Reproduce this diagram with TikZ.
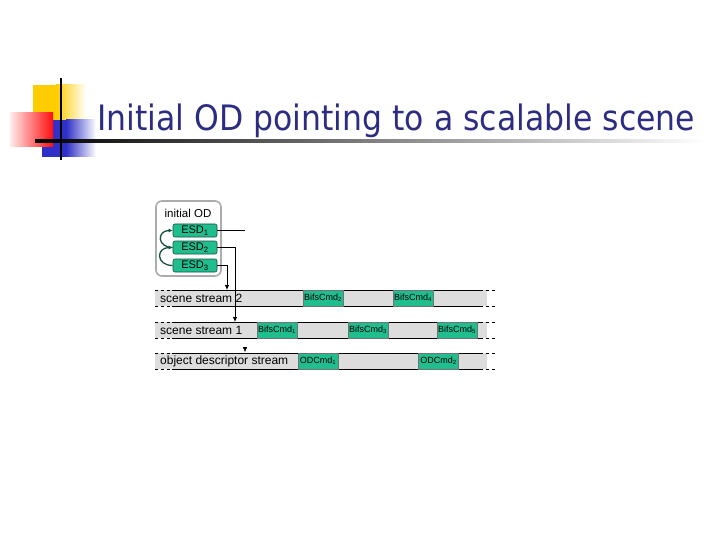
\documentclass[tikz,border=0pt]{standalone}
\usepackage{fontspec}
\setmainfont{Liberation Sans}
\newfontfamily\titlefont{DejaVu Sans}
\usetikzlibrary{arrows.meta}
\definecolor{esdgreen}{RGB}{32,190,142}
\definecolor{esdedge}{RGB}{20,80,62}
\definecolor{bargray}{RGB}{221,221,221}
\definecolor{titleblue}{RGB}{44,44,130}
\definecolor{gold}{RGB}{255,204,0}
\definecolor{squareblue}{RGB}{48,48,200}
\begin{document}
\begin{tikzpicture}[x=1pt, y=-1pt,
    odbox/.style={draw=gray!65, line width=1.6pt, rounded corners=6pt, fill=white,
                  minimum width=65pt, minimum height=75pt, inner sep=0pt},
    esd/.style={draw=esdedge, fill=esdgreen, rounded corners=2pt, line width=0.6pt,
                minimum width=44pt, minimum height=13pt, inner sep=0pt, font=\fontsize{11}{11}\selectfont},
    streambar/.style={fill=bargray, minimum width=332pt, minimum height=16pt, inner sep=0pt},
    cmd/.style={fill=esdgreen, draw=black!55, line width=0.4pt, minimum width=40pt,
                minimum height=16pt, inner sep=0pt, font=\fontsize{9}{9}\selectfont},
    rowlabel/.style={anchor=west, inner sep=0pt, font=\fontsize{12}{12}\selectfont},
    arr/.style={-{Latex[length=5pt,width=4.5pt]}, line width=0.8pt},
    back/.style={-{Latex[length=4pt,width=4pt]}, draw=esdedge, line width=1.3pt}]
\useasboundingbox (0,0) rectangle (720,540);
\fill[white] (0,0) rectangle (720,540);
\fill[gold] (33,85) rectangle (56,120);
\shade[left color=gold, right color=white] (56,85) rectangle (86,120);
\fill[squareblue] (42,120) rectangle (66,157);
\shade[left color=squareblue, right color=white] (66,120) rectangle (96,157);
\shade[left color=red!8, right color=red!95] (10,113) rectangle (53,147);
\shade[left color=black, right color=white] (35,140) rectangle (705,142.2);
\fill[black] (60,78) rectangle (62.2,160);
\node[anchor=base west, inner sep=0pt, text=titleblue, xscale=0.9,
      font=\titlefont\fontsize{35}{35}\selectfont] (title) at (97,131) {Initial OD pointing to a scalable scene};
\node[odbox] (od) at (188.5,238.5) {};
\node[font=\fontsize{11.5}{11.5}\selectfont] (odname) at (188,213) {initial OD};
\node[esd] (esd1) at (195,230.5) {ESD\textsubscript{1}};
\node[esd] (esd2) at (195,247.5) {ESD\textsubscript{2}};
\node[esd] (esd3) at (195,265.5) {ESD\textsubscript{3}};
\draw[back] (esd2.west) to[out=180, in=180, looseness=2.4] (esd1.west);
\draw[back] (esd3.west) to[out=180, in=180, looseness=2.4] (esd2.west);
\node[streambar] (scenetwo) at (321,298) {};
\node[streambar] (sceneone) at (321,330) {};
\node[streambar] (odstream) at (321,361) {};
\foreach \y in {290,306,322,338,353,369} {
  \draw[dashed, line width=0.6pt] (155,\y) -- (172,\y);
  \draw[line width=0.6pt] (172,\y) -- (480,\y);
  \draw[dashed, line width=0.6pt] (480,\y) -- (495,\y);
}
\node[rowlabel] (labtwo) at (160,298) {scene stream 2};
\node[rowlabel] (labone) at (160,330) {scene stream 1};
\node[rowlabel] (labod) at (160,361) {object descriptor stream};
\node[cmd] (bifs2) at (323,298) {BifsCmd\textsubscript{2}};
\node[cmd] (bifs4) at (413,298) {BifsCmd\textsubscript{4}};
\node[cmd] (bifs1) at (277,330) {BifsCmd\textsubscript{1}};
\node[cmd] (bifs3) at (368,330) {BifsCmd\textsubscript{3}};
\node[cmd] (bifs5) at (457,330) {BifsCmd\textsubscript{5}};
\node[cmd] (odcmd1) at (318,361) {ODCmd\textsubscript{1}};
\node[cmd] (odcmd2) at (438.5,361) {ODCmd\textsubscript{2}};
\coordinate (esd1end) at (245,230.5);
\coordinate (intwo) at (227,290);
\coordinate (inone) at (235,322);
\coordinate (odsfrom) at (245,347);
\coordinate (odsto) at (245,352);
\draw[line width=0.8pt] (esd1.east) -- (esd1end);
\draw[arr] (esd3.east) -| (intwo);
\draw[arr] (esd2.east) -| (inone);
\draw[arr, line width=0.3pt] (odsfrom) -- (odsto);
\end{tikzpicture}
\end{document}
